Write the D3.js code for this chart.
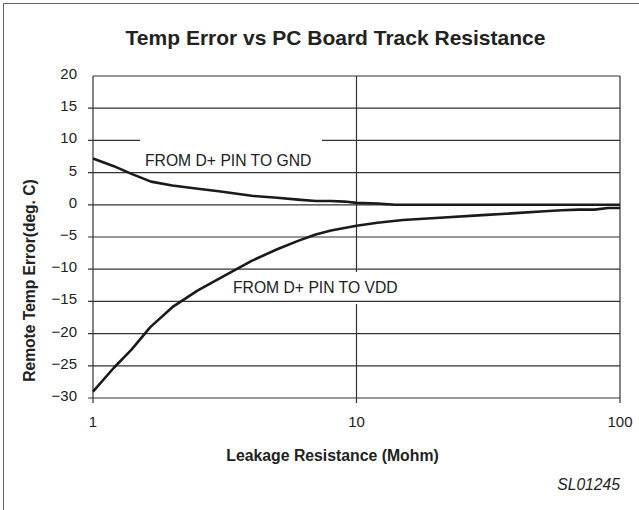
<!DOCTYPE html>
<html>
<head>
<meta charset="utf-8">
<script src="https://cdn.jsdelivr.net/npm/d3@7"></script>
<style>
  html, body { margin: 0; padding: 0; background: #fff; }
  svg { display: block; }
  text { font-family: "Liberation Sans", Arial, Helvetica, sans-serif; fill: #222; }
</style>
</head>
<body>
<script>
// ---- data ----
const xTicks = [1, 10, 100];
const xTickLabels = ["1", "10", "100"];
const yTicks = [20, 15, 10, 5, 0, -5, -10, -15, -20, -25, -30];
const yTickLabels = ["20", "15", "10", "5", "0", "\u22125", "\u221210", "\u221215", "\u221220", "\u221225", "\u221230"];

const gndX = [1, 1.2, 1.4, 1.66, 2, 2.5, 3, 4, 5, 6, 7, 8, 9, 10, 12, 14, 20, 50, 100];
const gndY = [7.2, 6.0, 4.8, 3.6, 3.0, 2.5, 2.1, 1.4, 1.1, 0.8, 0.6, 0.6, 0.5, 0.3, 0.2, 0, 0, 0, 0];

const vddX = [1, 1.2, 1.4, 1.65, 2, 2.5, 3, 4, 5, 6, 7, 8, 9, 10, 12, 15, 20, 30, 40, 50, 60, 70, 80, 90, 100];
const vddY = [-29, -25.3, -22.5, -19, -15.9, -13.3, -11.5, -8.7, -6.9, -5.6, -4.6, -4.0, -3.6, -3.25, -2.8, -2.35, -2.05, -1.6, -1.3, -1.05, -0.85, -0.75, -0.75, -0.5, -0.5];

const titleText = "Temp Error vs PC Board Track Resistance";
const xTitle = "Leakage Resistance (Mohm)";
const yTitle = "Remote Temp Error(deg. C)";
const gndLabel = "FROM D+ PIN TO GND";
const vddLabel = "FROM D+ PIN TO VDD";
const codeLabel = "SL01245";

// ---- layout ----
const W = 639, H = 510;
const svg = d3.select("body").append("svg").attr("width", W).attr("height", H);

const x = d3.scaleLog().domain([1, 100]).range([93, 620]);
const y = d3.scaleLinear().domain([-30, 20]).range([398, 76]);

// outer frame
svg.append("rect").attr("x", 3.5).attr("y", 3.5).attr("width", 700).attr("height", 600)
  .attr("fill", "none").attr("stroke", "#666").attr("stroke-width", 1);

// title
svg.append("text").attr("x", 335.5).attr("y", 45).attr("text-anchor", "middle")
  .style("font-size", "21px").style("font-weight", "bold").text(titleText);

const gridColor = "#333";

// vertical gridline at 10
svg.append("line").attr("x1", x(10)).attr("x2", x(10)).attr("y1", y(20)).attr("y2", y(-30) + 5)
  .attr("stroke", gridColor).attr("stroke-width", 1.2);

// VDD label white box (interrupts vertical gridline)
svg.append("rect").attr("x", 229).attr("y", 272).attr("width", 175).attr("height", 32).attr("fill", "#fff");

// horizontal gridlines with left tick extension
svg.selectAll("line.hgrid").data(yTicks).enter().append("line").attr("class", "hgrid")
  .attr("x1", d => d === 20 ? x(1) : x(1) - 5)
  .attr("x2", x(100))
  .attr("y1", d => y(d)).attr("y2", d => y(d))
  .attr("stroke", gridColor).attr("stroke-width", 1.2);

// GND label white box (interrupts 10 gridline)
svg.append("rect").attr("x", 140).attr("y", 136).attr("width", 182).attr("height", 34).attr("fill", "#fff");

// left and right frame + bottom ticks
[1, 100].forEach(v => {
  svg.append("line").attr("x1", x(v)).attr("x2", x(v)).attr("y1", y(20)).attr("y2", y(-30) + 5)
    .attr("stroke", gridColor).attr("stroke-width", 1.2);
});

// y tick labels
svg.selectAll("text.ytick").data(yTicks).enter().append("text").attr("class", "ytick")
  .attr("x", 77).attr("y", d => y(d) + 3).attr("text-anchor", "end")
  .style("font-size", "15px").text((d, i) => yTickLabels[i]);

// x tick labels
svg.selectAll("text.xtick").data(xTicks).enter().append("text").attr("class", "xtick")
  .attr("x", d => x(d)).attr("y", 427).attr("text-anchor", "middle")
  .style("font-size", "15px").text((d, i) => xTickLabels[i]);

// curves
const line = d3.line().x(d => x(d[0])).y(d => y(d[1]));
svg.append("path").datum(gndX.map((v, i) => [v, gndY[i]]))
  .attr("d", line).attr("fill", "none").attr("stroke", "#1a1a1a").attr("stroke-width", 2.6)
  .attr("stroke-linejoin", "round");
svg.append("path").datum(vddX.map((v, i) => [v, vddY[i]]))
  .attr("d", line).attr("fill", "none").attr("stroke", "#1a1a1a").attr("stroke-width", 2.6)
  .attr("stroke-linejoin", "round");

// annotations
svg.append("text").attr("x", 145).attr("y", 166).style("font-size", "15.7px").text(gndLabel);
svg.append("text").attr("x", 233).attr("y", 293).style("font-size", "15.7px").text(vddLabel);

// axis titles
svg.append("text").attr("x", 332.5).attr("y", 461).attr("text-anchor", "middle")
  .style("font-size", "15.8px").style("font-weight", "bold").text(xTitle);
svg.append("text").attr("transform", "translate(35,280.5) rotate(-90)").attr("text-anchor", "middle")
  .style("font-size", "15.6px").style("font-weight", "bold").text(yTitle);

// code
svg.append("text").attr("x", 620).attr("y", 490).attr("text-anchor", "end")
  .style("font-size", "15.7px").style("font-style", "italic").text(codeLabel);
</script>
</body>
</html>
